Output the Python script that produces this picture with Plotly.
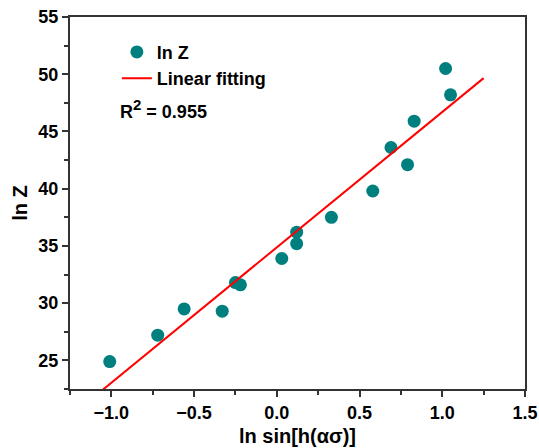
import numpy as np
import plotly.graph_objects as go

x_vals = [-1.01, -0.72, -0.56, -0.33, -0.25, -0.22, 0.03, 0.12, 0.12, 0.33, 0.58, 0.69, 0.79, 0.83, 1.02, 1.05]
y_vals = [24.9, 27.2, 29.5, 29.3, 31.8, 31.6, 33.9, 35.2, 36.2, 37.5, 39.8, 43.6, 42.1, 45.9, 50.5, 48.2]
fit_x = [-1.05, 1.25]
r2_text = "R<sup><span style='font-size:15px'>2</span></sup> = 0.955"

slope, intercept = np.polyfit(x_vals, y_vals, 1)
fit_y = [slope * v + intercept for v in fit_x]

font_family = "Liberation Sans, Arial, sans-serif"

fig = go.Figure()
fig.add_trace(go.Scatter(x=x_vals, y=y_vals, mode="markers", name="ln Z",
                         marker=dict(color="#007F7F", size=13)))
fig.add_trace(go.Scatter(x=fit_x, y=fit_y, mode="lines", name="Linear fitting",
                         line=dict(color="#FF0000", width=2)))

axis_common = dict(showline=True, linecolor="#333333", linewidth=2, mirror=True,
                   ticks="outside", ticklen=6, tickwidth=1.5, tickcolor="#333333",
                   showgrid=False, zeroline=False, automargin=False,
                   tickfont=dict(family=font_family, size=18, color="#000000", weight="bold"))

fig.update_xaxes(range=[-1.25, 1.5], dtick=0.5, tickformat=".1f",
                 minor=dict(dtick=0.25, ticks="outside", ticklen=4, tickcolor="#333333"),
                 title=dict(text="ln sin[h(ασ)]", font=dict(family=font_family, size=20, color="#000000", weight="bold"), standoff=7),
                 **axis_common)
fig.update_yaxes(range=[22.5, 55], dtick=5,
                 minor=dict(dtick=2.5, ticks="outside", ticklen=4, tickcolor="#333333"),
                 title=dict(text="ln Z", font=dict(family=font_family, size=20, color="#000000", weight="bold"), standoff=5),
                 **axis_common)

fig.add_annotation(x=0.105, y=0.752, xref="paper", yref="paper", xanchor="left", yanchor="middle",
                   text=r2_text, showarrow=False,
                   font=dict(family=font_family, size=18, color="#000000", weight="bold"))

fig.update_layout(width=539, height=448, margin=dict(l=70, r=14, t=17, b=59),
                  plot_bgcolor="white", paper_bgcolor="white",
                  legend=dict(x=0.103, y=0.955, xanchor="left", yanchor="top",
                              bgcolor="rgba(0,0,0,0)",
                              font=dict(family=font_family, size=18, color="#000000", weight="bold")),
                  showlegend=True)

fig.write_html("out.html", config={"displayModeBar": False},
               post_script="document.body.style.margin='0';document.body.style.overflow='hidden';")
